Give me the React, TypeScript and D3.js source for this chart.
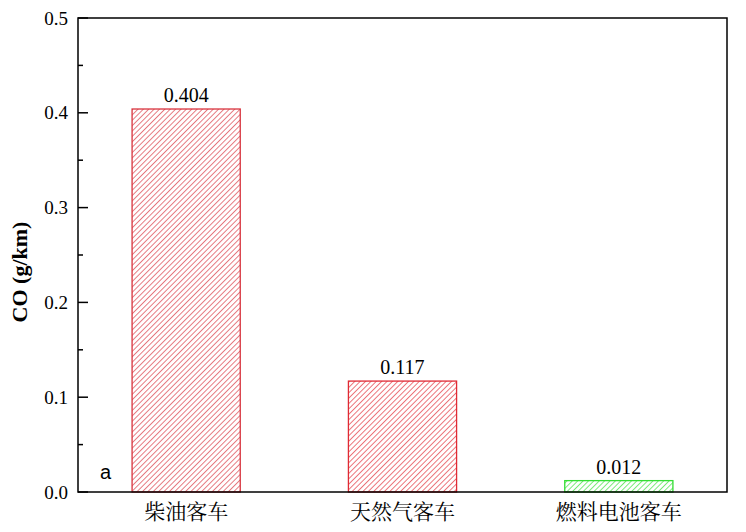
import React, { useEffect, useRef } from 'react';
import * as d3 from 'd3';

const categories = ['柴油客车', '天然气客车', '燃料电池客车'];
const values = [0.404, 0.117, 0.012];
const barColors = ['#d8343e', '#e02a34', '#33dd33'];
const yTicks = [0.0, 0.1, 0.2, 0.3, 0.4, 0.5];
const yMinorTicks = [0.05, 0.15, 0.25, 0.35, 0.45];

const W = 746;
const H = 532;

const App: React.FC = () => {
  const svgRef = useRef<SVGSVGElement>(null);

  useEffect(() => {
    if (!svgRef.current) return;
    const svg = d3.select(svgRef.current);
    svg.selectAll('*').remove();

    const margin = { top: 18, right: 19, bottom: 40, left: 78 };
    const innerW = W - margin.left - margin.right;
    const innerH = H - margin.top - margin.bottom;

    const x = d3.scaleBand<string>().domain(categories).range([0, innerW]).paddingInner(0.5).paddingOuter(0.25);
    const y = d3.scaleLinear().domain([0, 0.5]).range([innerH, 0]);

    // hatch patterns, lines running bottom-left to top-right
    const defs = svg.append('defs');
    barColors.forEach((c, i) => {
      const p = defs.append('pattern')
        .attr('id', `hatch-${i}`)
        .attr('patternUnits', 'userSpaceOnUse')
        .attr('width', 3.8)
        .attr('height', 3.8)
        .attr('patternTransform', 'rotate(45)');
      p.append('line')
        .attr('x1', 0.5).attr('y1', 0).attr('x2', 0.5).attr('y2', 3.8)
        .attr('stroke', c)
        .attr('stroke-width', 0.65);
    });

    const g = svg.append('g').attr('transform', `translate(${margin.left},${margin.top})`);

    // bars
    g.selectAll('.bar')
      .data(values)
      .enter().append('rect')
      .attr('x', (_d, i) => x(categories[i])!)
      .attr('y', d => y(d))
      .attr('width', x.bandwidth())
      .attr('height', d => innerH - y(d))
      .attr('fill', (_d, i) => `url(#hatch-${i})`)
      .attr('stroke', (_d, i) => barColors[i])
      .attr('stroke-width', 1.3);

    // value labels
    g.selectAll('.val')
      .data(values)
      .enter().append('text')
      .attr('x', (_d, i) => x(categories[i])! + x.bandwidth() / 2)
      .attr('y', d => y(d) - 7)
      .attr('text-anchor', 'middle')
      .style('font-family', '"Liberation Serif", "Times New Roman", serif')
      .style('font-size', '20px')
      .text(d => d.toFixed(3));

    // frame
    g.append('rect')
      .attr('width', innerW)
      .attr('height', innerH)
      .attr('fill', 'none')
      .attr('stroke', '#000')
      .attr('stroke-width', 1.5);

    // y ticks (inward)
    g.selectAll('.ytick')
      .data(yTicks)
      .enter().append('line')
      .attr('x1', 0).attr('x2', 10)
      .attr('y1', d => y(d)).attr('y2', d => y(d))
      .attr('stroke', '#000').attr('stroke-width', 1.5);
    g.selectAll('.yminor')
      .data(yMinorTicks)
      .enter().append('line')
      .attr('x1', 0).attr('x2', 5)
      .attr('y1', d => y(d)).attr('y2', d => y(d))
      .attr('stroke', '#000').attr('stroke-width', 1.5);

    g.selectAll('.ylabel')
      .data(yTicks)
      .enter().append('text')
      .attr('x', -10)
      .attr('y', d => y(d))
      .attr('dy', '0.35em')
      .attr('text-anchor', 'end')
      .style('font-family', '"Liberation Serif", "Times New Roman", serif')
      .style('font-size', '19px')
      .text(d => d.toFixed(1));

    // category labels
    g.selectAll('.xlabel')
      .data(categories)
      .enter().append('text')
      .attr('x', d => x(d)! + x.bandwidth() / 2)
      .attr('y', innerH + 27)
      .attr('text-anchor', 'middle')
      .style('font-family', '"Noto Serif CJK SC", "Noto Sans CJK SC", serif')
      .style('font-size', '21px')
      .text(d => d);

    // y axis title (sits a bit below the plot's middle)
    svg.append('text')
      .attr('transform', `translate(27, ${margin.top + innerH / 2 + 17}) rotate(-90)`)
      .attr('text-anchor', 'middle')
      .style('font-family', '"Liberation Serif", "Times New Roman", serif')
      .style('font-size', '22px')
      .style('font-weight', 'bold')
      .text('CO (g/km)');

    // panel letter
    g.append('text')
      .attr('x', 22)
      .attr('y', innerH - 13)
      .style('font-family', '"Liberation Sans", Arial, sans-serif')
      .style('font-size', '20px')
      .text('a');
  }, []);

  return (
    <svg ref={svgRef} width={W} height={H} style={{ position: 'absolute', left: 0, top: 0, background: '#fff' }} />
  );
};

export default App;
